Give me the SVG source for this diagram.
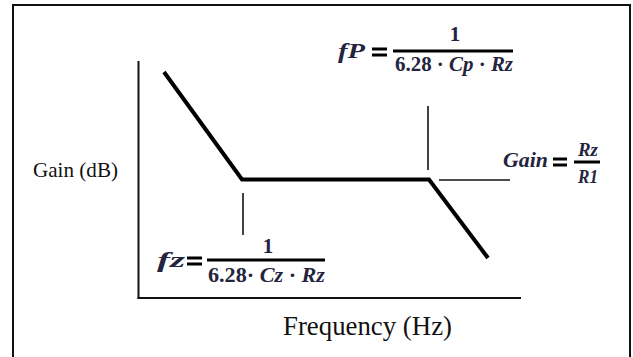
<svg xmlns="http://www.w3.org/2000/svg" width="633" height="357" viewBox="0 0 633 357">
<style>
.frame{fill:none;stroke:#111;stroke-width:2}
.axis{fill:none;stroke:#111;stroke-width:2}
.curve{fill:none;stroke:#000;stroke-width:4;stroke-linejoin:miter}
.tick{fill:none;stroke:#111;stroke-width:1.6}
.bar{stroke:#000;stroke-width:3}
.lbl{font-family:"Liberation Serif","Times New Roman",serif;fill:#111}
.m{font-family:"Liberation Serif","Times New Roman",serif;font-weight:bold;fill:#24243e}
.mi{font-style:italic}
</style>
<rect width="633" height="357" fill="#fff"/>
<rect class="frame" x="13" y="5" width="617" height="360"/>
<g id="axes">
<line class="axis" x1="138.5" y1="61" x2="138.5" y2="299"/>
<line class="axis" x1="137.5" y1="298" x2="521" y2="298"/>
</g>
<g id="connectors">
<polyline class="curve" points="164,72 242,179.5 429,179.5 488,258"/>
<line class="tick" x1="243" y1="193" x2="243" y2="235"/>
<line class="tick" x1="428" y1="106" x2="428" y2="170"/>
<line class="tick" x1="439" y1="180" x2="510" y2="180"/>
</g>
<g id="labels">
<text class="lbl" x="33" y="177" font-size="21" textLength="85" lengthAdjust="spacingAndGlyphs">Gain (dB)</text>
<text class="lbl" x="283" y="335" font-size="26.5" textLength="169" lengthAdjust="spacingAndGlyphs">Frequency (Hz)</text>
</g>
<g id="fp">
<text class="m mi" x="338" y="58" font-size="21" textLength="27" lengthAdjust="spacingAndGlyphs">fP</text>
<line class="bar" x1="372" y1="49" x2="387" y2="49" stroke-width="2"/>
<line class="bar" x1="372" y1="55" x2="387" y2="55" stroke-width="2"/>
<line class="bar" x1="393" y1="51" x2="513" y2="51"/>
<text class="m" x="455" y="41" font-size="21" text-anchor="middle">1</text>
<text class="m" x="395" y="71" font-size="20" textLength="118" lengthAdjust="spacingAndGlyphs">6.28 · <tspan class="mi">Cp</tspan> · <tspan class="mi">Rz</tspan></text>
</g>
<g id="fz">
<text class="m mi" x="157" y="267" font-size="21" textLength="28" lengthAdjust="spacingAndGlyphs">fz</text>
<line class="bar" x1="187" y1="258" x2="202" y2="258" stroke-width="2"/>
<line class="bar" x1="187" y1="264" x2="202" y2="264" stroke-width="2"/>
<line class="bar" x1="207" y1="260" x2="325" y2="260"/>
<text class="m" x="268" y="253" font-size="21" text-anchor="middle">1</text>
<text class="m" x="208" y="282" font-size="20" textLength="117" lengthAdjust="spacingAndGlyphs">6.28· <tspan class="mi">Cz</tspan> · <tspan class="mi">Rz</tspan></text>
</g>
<g id="gain">
<text class="m mi" x="503" y="167" font-size="20" textLength="45" lengthAdjust="spacingAndGlyphs">Gain</text>
<line class="bar" x1="553" y1="159" x2="567" y2="159" stroke-width="2"/>
<line class="bar" x1="553" y1="165" x2="567" y2="165" stroke-width="2"/>
<line class="bar" x1="574" y1="162" x2="600" y2="162"/>
<text class="m mi" x="578" y="156" font-size="19" textLength="20" lengthAdjust="spacingAndGlyphs">Rz</text>
<text class="m mi" x="578" y="183" font-size="19" textLength="20" lengthAdjust="spacingAndGlyphs">R1</text>
</g>
</svg>
